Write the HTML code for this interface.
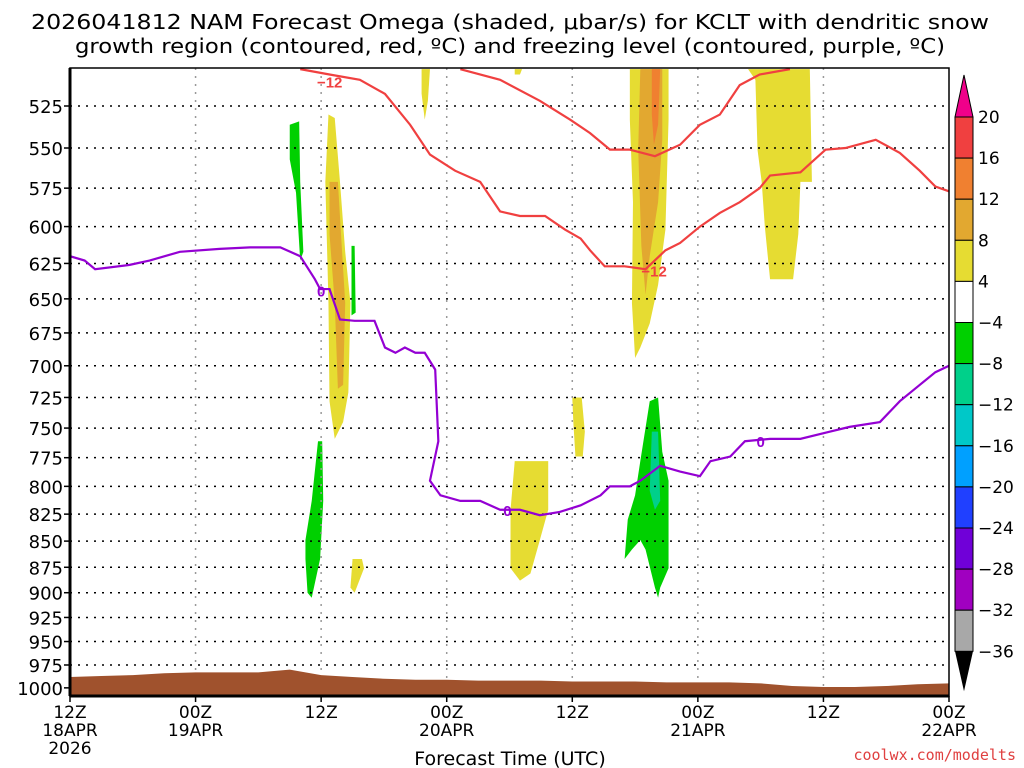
<!DOCTYPE html>
<html><head><meta charset="utf-8"><style>
body{margin:0;background:#fff;}
svg{display:block;font-family:"DejaVu Sans","Liberation Sans",sans-serif;}
</style></head><body>
<svg id="chart" width="1024" height="768" xmlns="http://www.w3.org/2000/svg">
<text x="510" y="29" font-size="20" text-anchor="middle" fill="#000" textLength="958" lengthAdjust="spacingAndGlyphs">2026041812 NAM Forecast Omega (shaded, μbar/s) for KCLT with dendritic snow</text>
<text x="510" y="53" font-size="20" text-anchor="middle" fill="#000" textLength="870" lengthAdjust="spacingAndGlyphs">growth region (contoured, red, ºC) and freezing level (contoured, purple, ºC)</text>
<text x="510" y="765" font-size="19" text-anchor="middle" fill="#000">Forecast Time (UTC)</text>
<text x="1016" y="760" font-size="15" text-anchor="end" fill="#e04040" font-family="DejaVu Sans Mono, Liberation Mono, monospace">coolwx.com/modelts</text>
<g id="plot"></g>
</svg>
<script>
// ---- data ----
const timeTicks=[0,12,24,36,48,60,72,84];
const timeTickLabels=[["12Z","18APR","2026"],["00Z","19APR"],["12Z"],["00Z","20APR"],["12Z"],["00Z","21APR"],["12Z"],["00Z","22APR"]];
const pressureTicks=[525,550,575,600,625,650,675,700,725,750,775,800,825,850,875,900,925,950,975,1000];
const colorLevels=[20,16,12,8,4,-4,-8,-12,-16,-20,-24,-28,-32,-36];
const colorFills=["#f04040","#f08030","#e2a830","#e6dc32","#ffffff","#00d000","#00d08a","#00c8c8","#00a0ff","#2040ff","#7000d8","#a000c0","#a8a8a8"];
const groundHours=[0,3,6,9,12,15,18,21,24,27,30,33,36,39,42,45,48,51,54,57,60,63,66,69,72,75,78,81,84];
const groundPres=[988,987,986,984,983,983,983,980,986,988,990,991,991,992,992,992,993,993,993,994,994,994,995,998,999,999,998,996,995];
const redLineA=[[22,504],[24.8,507],[27.7,510],[30.1,518],[32.5,536],[34.4,554],[36.8,564],[39.2,571],[41.1,590],[43,593],[45.4,593],[47.3,602],[48.8,608],[49.7,616],[51.1,627],[53,627],[55,629],[56.9,616],[58.3,611],[60.2,600],[62.1,591],[64,584],[65.9,575],[66.9,567],[69.8,565],[72.2,551],[74.1,550],[77,545],[79.3,553],[81.2,564],[82.7,574],[84,577]];
const redLineB=[[37.3,504],[41.1,510],[44.9,522],[47.8,533],[49.7,541],[51.6,551],[53.5,551],[55.9,555],[58.3,548],[60.2,536],[62.1,530],[64,513],[65.9,507],[68.8,504]];
const purpleLine=[[0,620],[1.4,623],[2.4,629],[5.7,626],[7.6,623],[10.5,617],[14.3,615],[17.2,614],[20.1,614],[22,620],[23.4,636],[23.9,643],[24.8,643],[25.8,665],[27.2,666],[29.1,666],[30.1,686],[31.1,690],[32,686],[33,690],[33.9,690],[34.9,703],[35.2,761],[34.4,795],[35.4,808],[37.3,813],[39.2,813],[41.1,821],[43,821],[44.9,826],[46.8,823],[48.8,817],[50.7,808],[51.6,800],[53.5,800],[54.5,795],[56.4,782],[58.3,787],[60.2,791],[61.2,778],[63.1,774],[64.5,761],[66.9,759],[69.8,759],[72.6,753],[74.5,749],[77.4,745],[79.3,728],[81.2,715],[82.7,705],[84,700]];
const omegaYellow=[
 [[24.7,530],[25.3,532],[25.8,571],[26.3,617],[26.8,653],[26.6,721],[26.1,745],[25.3,759],[24.8,728],[24.7,653],[24.4,571]],
 [[33.6,504],[34.4,504],[34.2,522],[33.9,533],[33.6,518]],
 [[42.5,504],[43.2,504],[43,507],[42.5,507]],
 [[27,867],[27.9,867],[28.1,876],[27.2,900],[26.8,895]],
 [[48,725],[48.9,725],[49.2,753],[49,774],[48.3,774],[48.1,745]],
 [[42.5,778],[45.7,778],[45.7,821],[44.9,849],[44,881],[43,888],[42.1,876],[42.1,821]],
 [[53.5,504],[57.2,504],[57.2,533],[56.9,602],[56.2,640],[55.4,668],[54.5,686],[54,694],[53.7,653],[53.8,584],[53.5,533]],
 [[64.8,504],[70.7,504],[70.9,571],[69.8,571],[69.6,605],[69.1,636],[66.9,636],[66.4,600],[66.1,571],[65.7,551],[65.5,510]]
];
const omegaOrange=[
 [[24.8,571],[25.6,571],[26,617],[26.3,653],[26.1,715],[25.6,718],[25.3,653],[24.8,605]],
 [[54.5,504],[56.6,504],[56.6,545],[56.2,584],[55.4,620],[55,647],[54.6,613],[54.3,551]]
];
const omegaRed=[[[55.6,504],[56.4,504],[56.2,536],[55.8,548],[55.6,530]]];
const omegaGreen=[
 [[21,536],[21.9,534],[22,571],[22.3,617],[22,623],[21.6,578],[21,557]],
 [[26.9,613],[27.2,613],[27.3,660],[26.9,662]],
 [[23.7,761],[24.1,761],[24.2,813],[23.9,867],[23.1,905],[22.7,900],[22.5,867],[22.5,849],[23.1,813]],
 [[54.5,778],[55.4,728],[56.2,725],[56.6,770],[57.2,795],[57.2,876],[56.4,895],[56.2,905],[55.9,895],[55,858],[54.5,849],[53.7,858],[53,867],[53.3,830],[54,808]]
];
const omegaTeal=[[[55.6,753],[56.2,753],[56.4,813],[55.9,821],[55.4,804]]];

// ---- axes ----
const X0=70,X1=949,Y0=68,Y1=696;
const xs=h=>X0+h*(X1-X0)/84;
const ys=p=>106+903*Math.log(p/525);
const NS="http://www.w3.org/2000/svg";
const plot=document.getElementById('plot');
function mk(tag,attrs,parent){const e=document.createElementNS(NS,tag);for(const k in attrs)e.setAttribute(k,attrs[k]);(parent||plot).appendChild(e);return e;}
const clip=mk('clipPath',{id:'pc'});mk('rect',{x:X0,y:Y0,width:X1-X0,height:Y1-Y0},clip);
const inner=mk('g',{'clip-path':'url(#pc)'});
function poly(arr,fill,name){const e=mk('polygon',{points:arr.map(d=>xs(d[0])+','+ys(d[1])).join(' '),fill:fill},inner);

}
omegaYellow.forEach(a=>poly(a,"#e6dc32","omega-4-8"));
omegaOrange.forEach(a=>poly(a,"#e2a830","omega-8-12"));
omegaRed.forEach(a=>poly(a,"#f08030","omega-12-16"));
omegaGreen.forEach(a=>poly(a,"#00d000","omega-neg4-neg8"));
omegaTeal.forEach(a=>poly(a,"#00d08a","omega-neg8-neg12"));
// grid
pressureTicks.forEach(p=>{const l=mk('line',{x1:X0,x2:X1,y1:ys(p),y2:ys(p),stroke:'#000','stroke-width':1.5,'stroke-dasharray':'2,6'},inner);

});
timeTicks.slice(1,-1).forEach(h=>{const l=mk('line',{x1:xs(h),x2:xs(h),y1:Y0,y2:Y1,stroke:'#999','stroke-width':1.5,'stroke-dasharray':'2,6'},inner);

});
// ground
let gp='M'+xs(groundHours[0])+','+Y1;groundHours.forEach((h,i)=>gp+=' L'+xs(h)+','+ys(groundPres[i]));gp+=' L'+xs(84)+','+Y1+' Z';
const g=mk('path',{d:gp,fill:'#a0522d'},inner);


function line(arr,col,name){const e=mk('polyline',{points:arr.map(d=>xs(d[0])+','+ys(d[1])).join(' '),fill:'none',stroke:col,'stroke-width':2.2},inner);

}
line(redLineA,'#f04040','dgz-contour-a');
line(redLineB,'#f04040','dgz-contour-b');
line(purpleLine,'#9400d3','freezing-level-contour');
function clab(h,p,t,col,name){
const e=mk('text',{x:xs(h),y:ys(p)+6,'font-size':15,'font-weight':'bold',fill:col,'font-family':'Liberation Sans, sans-serif'},inner);e.textContent=t;

}
clab(23.6,511,'−12','#f04040','dgz-label-a');
clab(54.6,630,'−12','#f04040','dgz-label-b');
clab(23.6,644,'0','#9400d3','frz-label-a');
clab(41.4,821,'0','#9400d3','frz-label-b');
clab(65.6,761,'0','#9400d3','frz-label-c');
// frame
const fr=mk('rect',{x:X0,y:Y0,width:X1-X0,height:Y1-Y0,fill:'none',stroke:'#000','stroke-width':1.5});


mk('line',{x1:X0,x2:X1,y1:Y1,y2:Y1,stroke:'#000','stroke-width':3});
mk('line',{x1:X0,x2:X0,y1:Y0,y2:Y1,stroke:'#000','stroke-width':3});
pressureTicks.forEach(p=>{mk('line',{x1:X0-6,x2:X0,y1:ys(p),y2:ys(p),stroke:'#000','stroke-width':1.5});
const t=mk('text',{x:63,y:ys(p)+7,'font-size':18,'text-anchor':'end',fill:'#000'});t.textContent=p;

});
timeTicks.forEach((h,i)=>{mk('line',{x1:xs(h),x2:xs(h),y1:Y1,y2:Y1+6,stroke:'#000','stroke-width':1.5});
timeTickLabels[i].forEach((s,j)=>{const t=mk('text',{x:xs(h),y:Y1+22+j*18,'font-size':17,'text-anchor':'middle',fill:'#000'});t.textContent=s;

});});
// colorbar
const CB=955,CW=18,CT=117,CS=41.1;
const cb=mk('g',{});


mk('polygon',{points:`${CB},${CT} ${CB+CW},${CT} ${CB+CW/2},75`,fill:'#f0008a',stroke:'#000'},cb);
colorFills.forEach((c,i)=>mk('rect',{x:CB,y:CT+i*CS,width:CW,height:CS,fill:c,stroke:'#000','stroke-width':1},cb));
const cbot=CT+colorFills.length*CS;
mk('polygon',{points:`${CB},${cbot} ${CB+CW},${cbot} ${CB+CW/2},${cbot+40}`,fill:'#000'},cb);
colorLevels.forEach((v,i)=>{const t=mk('text',{x:978,y:CT+i*CS+6,'font-size':17,fill:'#000'},cb);t.textContent=(v<0?'−':'')+Math.abs(v);

});
</script>
</body></html>
